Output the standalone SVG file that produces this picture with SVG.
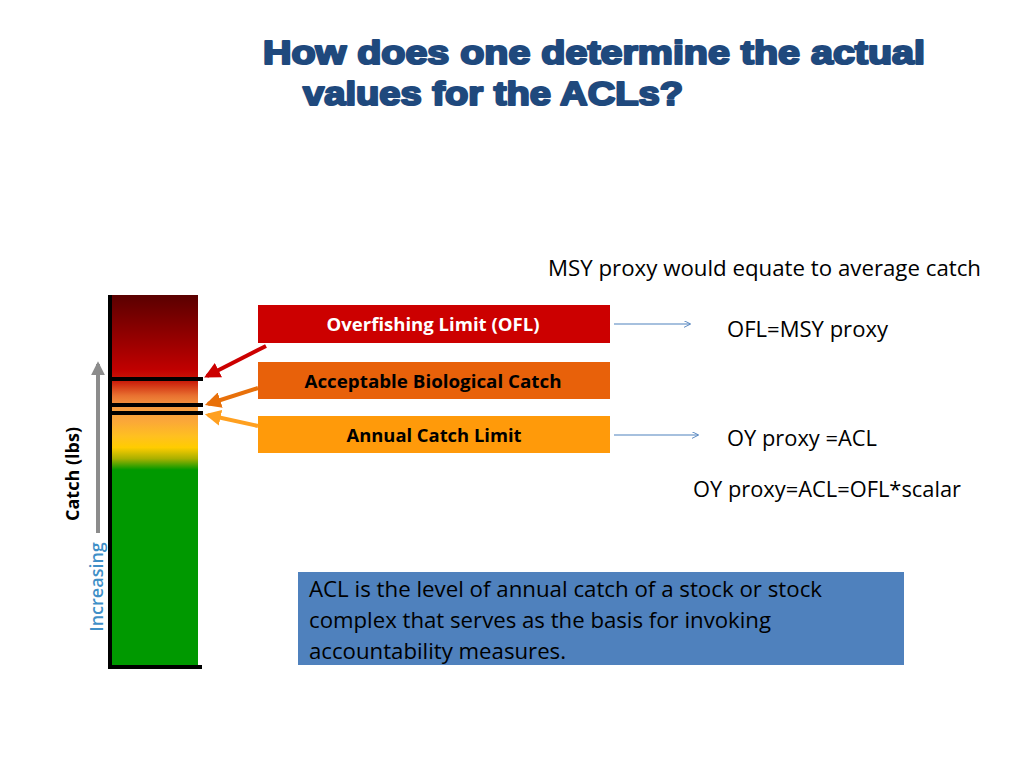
<svg xmlns="http://www.w3.org/2000/svg" width="1024" height="768" viewBox="0 0 1024 768">
<defs>
<style>
.title{font-family:"Liberation Sans",Arial,sans-serif;font-weight:bold;font-size:33px;fill:#1f497d;stroke:#1f497d;stroke-width:2.2px;stroke-linejoin:round}
.lbl{font-family:"Open Sans","Noto Sans",sans-serif;font-weight:bold;font-size:18px;text-anchor:middle}
.txt{font-family:"Open Sans","Noto Sans",sans-serif;font-size:21px;fill:#000}
.body{font-family:"Open Sans","Noto Sans",sans-serif;font-size:21.5px;fill:#000}
.blk{stroke:#000;stroke-width:4}
</style>
<linearGradient id="bar" x1="0" y1="295" x2="0" y2="667" gradientUnits="userSpaceOnUse">
<stop offset="0" stop-color="#5a0000"/>
<stop offset="0.2" stop-color="#c00000"/>
<stop offset="0.23" stop-color="#c81808"/>
<stop offset="0.27" stop-color="#e87030"/>
<stop offset="0.3" stop-color="#f59a40"/>
<stop offset="0.34" stop-color="#fba838"/>
<stop offset="0.38" stop-color="#ffc020"/>
<stop offset="0.41" stop-color="#ffcc00"/>
<stop offset="0.44" stop-color="#a8b000"/>
<stop offset="0.47" stop-color="#009900"/>
<stop offset="1" stop-color="#009900"/>
</linearGradient>
<marker id="ah" viewBox="0 0 10 10" refX="9" refY="5" markerWidth="7" markerHeight="7" orient="auto" markerUnits="userSpaceOnUse">
<path d="M0,0 L10,5 L0,10" fill="none" stroke="#4f81bd" stroke-width="1.3"/>
</marker>
<marker id="ahRed" viewBox="0 0 10 10" refX="8" refY="5" markerWidth="4" markerHeight="4" orient="auto"><path d="M0,0 L10,5 L0,10 z" fill="#cc0000"/></marker>
<marker id="ahOr" viewBox="0 0 10 10" refX="8" refY="5" markerWidth="4" markerHeight="4" orient="auto"><path d="M0,0 L10,5 L0,10 z" fill="#e8700a"/></marker>
<marker id="ahLo" viewBox="0 0 10 10" refX="8" refY="5" markerWidth="4" markerHeight="4" orient="auto"><path d="M0,0 L10,5 L0,10 z" fill="#ffa020"/></marker>
<marker id="ahG" viewBox="0 0 10 10" refX="8" refY="5" markerWidth="3.5" markerHeight="3.5" orient="auto"><path d="M0,0 L10,5 L0,10 z" fill="#8c8c8c"/></marker>
</defs>
<rect width="1024" height="768" fill="#fff"/>
<g id="title">
<text class="title" x="263" y="64" textLength="662" lengthAdjust="spacingAndGlyphs">How does one determine the actual</text>
<text class="title" x="303" y="105" textLength="380" lengthAdjust="spacingAndGlyphs">values for the ACLs?</text>
</g>
<g id="bar-scale">
<rect x="110" y="295" width="88" height="372" fill="url(#bar)"/>
<line class="blk" x1="110" y1="295" x2="110" y2="668"/>
<line class="blk" x1="108" y1="667" x2="202" y2="667"/>
<line class="blk" x1="110" y1="379" x2="203" y2="379"/>
<line class="blk" x1="110" y1="405" x2="203" y2="405"/>
<line class="blk" x1="110" y1="413" x2="203" y2="413"/>
<line x1="98" y1="533" x2="98" y2="364" stroke="#8c8c8c" stroke-width="4" marker-end="url(#ahG)"/>
<text class="lbl" transform="translate(79,474) rotate(-90)" fill="#000">Catch (lbs)</text>
<text class="lbl" transform="translate(103,587) rotate(-90)" fill="#3f8fc7" style="font-weight:600">Increasing</text>
</g>
<g id="ofl">
<rect x="258" y="305" width="352" height="38" fill="#cc0000"/>
<text class="lbl" x="433" y="331" fill="#fff" textLength="213" lengthAdjust="spacingAndGlyphs">Overfishing Limit (OFL)</text>
</g>
<g id="abc">
<rect x="258" y="362" width="352" height="37" fill="#e8610a"/>
<text class="lbl" x="433" y="388" fill="#000" textLength="257" lengthAdjust="spacingAndGlyphs">Acceptable Biological Catch</text>
</g>
<g id="acl">
<rect x="258" y="416" width="352" height="37" fill="#ff9a0a"/>
<text class="lbl" x="434" y="442" fill="#000" textLength="175" lengthAdjust="spacingAndGlyphs">Annual Catch Limit</text>
</g>
<g id="connectors">
<line x1="266" y1="346" x2="207" y2="376" stroke="#cc0000" stroke-width="4" marker-end="url(#ahRed)"/>
<line x1="258" y1="388" x2="208" y2="404" stroke="#e8700a" stroke-width="4" marker-end="url(#ahOr)"/>
<line x1="258" y1="426" x2="208" y2="415" stroke="#ffa020" stroke-width="4" marker-end="url(#ahLo)"/>
<line x1="614" y1="324" x2="690" y2="324" stroke="#4f81bd" stroke-width="1.2" marker-end="url(#ah)"/>
<line x1="614" y1="435" x2="698" y2="435" stroke="#4f81bd" stroke-width="1.2" marker-end="url(#ah)"/>
</g>
<g id="notes">
<text class="txt" x="548" y="276" textLength="433" lengthAdjust="spacingAndGlyphs">MSY proxy would equate to average catch</text>
<text class="txt" x="727" y="337" textLength="161" lengthAdjust="spacingAndGlyphs">OFL=MSY proxy</text>
<text class="txt" x="727" y="446" textLength="150" lengthAdjust="spacingAndGlyphs">OY proxy =ACL</text>
<text class="txt" x="693" y="497" textLength="268" lengthAdjust="spacingAndGlyphs">OY proxy=ACL=OFL*scalar</text>
</g>
<g id="definition">
<rect x="298" y="572" width="606" height="93" fill="#4f81bd"/>
<text class="body" x="309" y="597" textLength="513" lengthAdjust="spacingAndGlyphs">ACL is the level of annual catch of a stock or stock</text>
<text class="body" x="309" y="628" textLength="462" lengthAdjust="spacingAndGlyphs">complex that serves as the basis for invoking</text>
<text class="body" x="309" y="659" textLength="257" lengthAdjust="spacingAndGlyphs">accountability measures.</text>
</g>
</svg>
